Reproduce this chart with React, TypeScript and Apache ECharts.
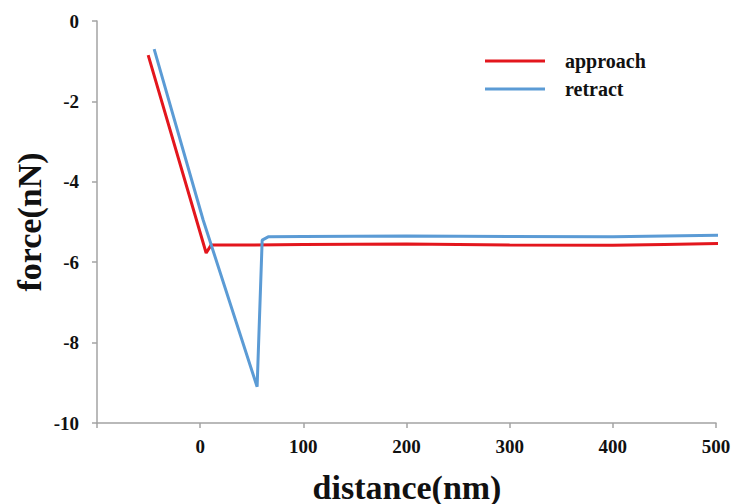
import React, { useEffect, useRef } from "react";
import * as echarts from "echarts";

// distance (nm), force (nN)
const approachX = [-50.4, 5.8, 10.7, 50, 100, 200, 300, 400, 450, 518];
const approachY = [-0.85, -5.77, -5.57, -5.57, -5.56, -5.55, -5.57, -5.58, -5.56, -5.53];

const retractX = [-44.6, 2.9, 55.2, 60.1, 65.9, 100, 200, 300, 400, 450, 518];
const retractY = [-0.7, -4.95, -9.1, -5.45, -5.37, -5.36, -5.35, -5.36, -5.37, -5.35, -5.32];

const seriesNames = ["approach", "retract"];
const seriesColors = ["#e3161d", "#5b9bd5"];

const xTitle = "distance(nm)";
const yTitle = "force(nN)";

const FONT = "'Liberation Serif', 'Times New Roman', serif";

export default function App() {
  const ref = useRef<HTMLDivElement>(null);

  useEffect(() => {
    if (!ref.current) return;
    const chart = echarts.init(ref.current, null, { renderer: "svg" });
    const axisLine = { show: true, onZero: false, lineStyle: { color: "#a3a3a3", width: 1.5 } };
    const labelStyle = { fontFamily: FONT, fontWeight: "bold" as const, fontSize: 19, color: "#111" };
    chart.setOption({
      animation: false,
      backgroundColor: "#ffffff",
      grid: { left: 97, right: 19, top: 21, bottom: 81, containLabel: false },
      legend: {
        orient: "vertical",
        left: 480,
        top: 46,
        itemWidth: 60,
        itemHeight: 3,
        itemGap: 8,
        icon: "rect",
        data: seriesNames,
        textStyle: {
          fontFamily: FONT,
          fontWeight: "bold",
          fontSize: 20,
          color: "#111",
          lineHeight: 20,
          padding: [0, 0, 0, 15],
        },
      },
      xAxis: {
        type: "value",
        min: -100,
        max: 500,
        interval: 100,
        axisLine,
        axisTick: { show: true, length: 5, lineStyle: { color: "#a3a3a3", width: 1.5 } },
        splitLine: { show: false },
        axisLabel: {
          ...labelStyle,
          margin: 14,
          formatter: (v: number) => (v < 0 ? "" : String(v)),
        },
      },
      yAxis: {
        type: "value",
        min: -10,
        max: 0,
        interval: 2,
        axisLine,
        axisTick: { show: true, length: 5, lineStyle: { color: "#a3a3a3", width: 1.5 } },
        splitLine: { show: false },
        axisLabel: { ...labelStyle, margin: 18 },
      },
      graphic: [
        {
          type: "text",
          x: 407,
          y: 487,
          style: {
            text: xTitle,
            fontFamily: FONT,
            fontWeight: "bold",
            fontSize: 34,
            fill: "#111",
            align: "center",
            verticalAlign: "middle",
          },
        },
        {
          type: "text",
          x: 29,
          y: 222,
          rotation: Math.PI / 2,
          style: {
            text: yTitle,
            fontFamily: FONT,
            fontWeight: "bold",
            fontSize: 34,
            fill: "#111",
            align: "center",
            verticalAlign: "middle",
          },
        },
      ],
      series: [
        {
          name: seriesNames[0],
          type: "line",
          data: approachX.map((x, i) => [x, approachY[i]]),
          showSymbol: false,
          clip: false,
          lineStyle: { color: seriesColors[0], width: 3 },
          itemStyle: { color: seriesColors[0] },
          z: 2,
        },
        {
          name: seriesNames[1],
          type: "line",
          data: retractX.map((x, i) => [x, retractY[i]]),
          showSymbol: false,
          clip: false,
          lineStyle: { color: seriesColors[1], width: 3 },
          itemStyle: { color: seriesColors[1] },
          z: 3,
        },
      ],
    });
    return () => chart.dispose();
  }, []);

  return (
    <div
      ref={ref}
      style={{ position: "fixed", left: 0, top: 0, width: 735, height: 504, background: "#fff" }}
    />
  );
}
